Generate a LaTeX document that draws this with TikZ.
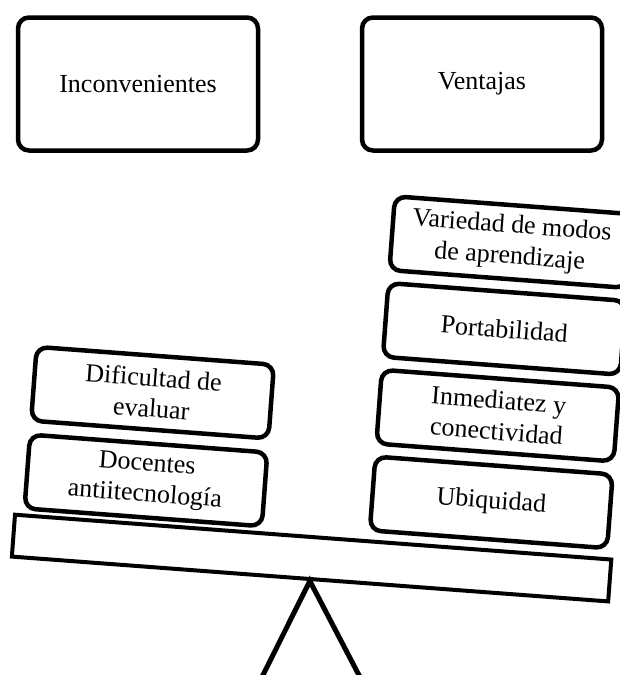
\documentclass[tikz,border=0pt]{standalone}
\usepackage{fontspec}
\setmainfont{Liberation Serif}
\usepackage{tikz}
\usetikzlibrary{positioning}

\begin{document}
\begin{tikzpicture}[x=1pt, y=1pt,
    headbox/.style={rectangle, draw, line width=4.5pt, rounded corners=11pt, minimum width=240pt, minimum height=133pt, font=\fontsize{26pt}{31pt}\selectfont},
    stackbox/.style={rectangle, draw, line width=4.5pt, rounded corners=11pt, minimum width=238pt, minimum height=74pt, inner sep=2pt, align=center, font=\fontsize{26pt}{31pt}\selectfont},
    plank/.style={rectangle, draw, line width=4pt, minimum width=598pt, minimum height=42pt, inner sep=0pt},
    legline/.style={line width=5pt, line join=miter}]
    \useasboundingbox (0,0) rectangle (619,-675);

    \node [headbox] (inc) at (138,-84) {Inconvenientes};
    \node [headbox] (ven) at (482,-84) {Ventajas};

    \begin{scope}[shift={(310,-579)}, rotate=-4.3, transform shape]
        \node [plank] (plank) at (0,21) {};
        \foreach \y/\id/\txt in {86/doc/{Docentes\\antiitecnología}, 174/dif/{Dificultad de\\evaluar}}
            \node [stackbox] (\id) at (-171,\y) {\txt};
        \foreach \y/\id/\txt in {90/ubi/Ubiquidad, 177/inm/{Inmediatez y\\conectividad}, 264/por/Portabilidad, 351/var/{Variedad de modos\\de aprendizaje}}
            \node [stackbox] (\id) at (175,\y) {\txt};
    \end{scope}

    \coordinate (footL) at (260,-681);
    \coordinate (footR) at (362,-681);
    \draw [legline] (footL) -- (plank.south) -- (footR);
\end{tikzpicture}
\end{document}
